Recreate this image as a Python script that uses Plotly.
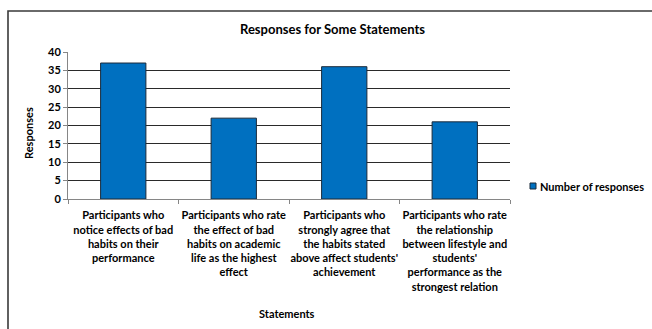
import plotly.graph_objects as go

# Survey statements (explicit line breaks for the wrapped axis labels)
statements = [
    "Participants who<br>notice effects of bad<br>habits on their<br>performance",
    "Participants who rate<br>the effect of bad<br>habits on academic<br>life as the highest<br>effect",
    "Participants who<br>strongly agree that<br>the habits stated<br>above affect students'<br>achievement",
    "Participants who rate<br>the relationship<br>between lifestyle and<br>students'<br>performance as the<br>strongest relation",
]
responses = [37, 22, 36, 21]
y_ticks = [0, 5, 10, 15, 20, 25, 30, 35, 40]

series_name = "Number of responses"
chart_title = "Responses for Some Statements"
x_title = "Statements"
y_title = "Responses"

BLUE = "#0070C0"
FONT = "Lato"
W, H = 652, 329
ML, MR, MT, MB = 68, 142, 52, 130
PW, PH = W - ML - MR, H - MT - MB


def px_x(p):
    return (p - ML) / PW


def px_y(p):
    return (H - MB - p) / PH


def label(text, x, y, size, angle=0, xanchor="center"):
    return dict(text=text, xref="paper", yref="paper",
                x=px_x(x), y=px_y(y), xanchor=xanchor, yanchor="middle",
                showarrow=False, textangle=angle,
                font=dict(family=FONT, size=size, weight="bold", color="#000"))


fig = go.Figure()
fig.add_trace(go.Bar(
    x=statements, y=responses, name=series_name,
    marker=dict(color=BLUE, line=dict(color="#1b2a3a", width=1)),
    showlegend=False,
))

fig.update_layout(
    width=W, height=H,
    margin=dict(l=ML, r=MR, t=MT, b=MB),
    paper_bgcolor="white", plot_bgcolor="white",
    bargap=0.59,
    font=dict(family=FONT, color="#000"),
    xaxis=dict(
        type="category", range=[-0.5, 3.5], automargin=False,
        tickson="boundaries", ticks="outside", ticklen=4, tickcolor="#868686",
        showline=True, linecolor="#868686", linewidth=1,
        showgrid=False, tickangle=0,
        tickfont=dict(family=FONT, size=11, color="#000", weight="bold"),
        ticklabelstandoff=6,
    ),
    yaxis=dict(
        range=[0, 40], tickvals=y_ticks, automargin=False,
        ticks="outside", ticklen=4, tickcolor="#868686",
        showline=True, linecolor="#868686", linewidth=1,
        showgrid=True, gridcolor="#2a2a2a", gridwidth=1, zeroline=False,
        tickfont=dict(family=FONT, size=11, color="#000", weight="bold"),
    ),
    shapes=[
        # outer chart frame
        dict(type="rect", xref="paper", yref="paper",
             x0=px_x(8), x1=px_x(662), y0=px_y(340), y1=px_y(11),
             line=dict(color="#3a3a3a", width=1.6), fillcolor="rgba(0,0,0,0)"),
        # legend key
        dict(type="rect", xref="paper", yref="paper",
             x0=px_x(530), x1=px_x(536), y0=px_y(189), y1=px_y(183),
             line=dict(color="#1b2a3a", width=1), fillcolor=BLUE),
    ],
    annotations=[
        label(chart_title, 332, 29, 13),
        label(y_title, 28, 133, 11, angle=-90),
        label(x_title, 287, 313, 11),
        label(series_name, 538, 186, 11, xanchor="left"),
    ],
)

fig.write_html("out.html")
